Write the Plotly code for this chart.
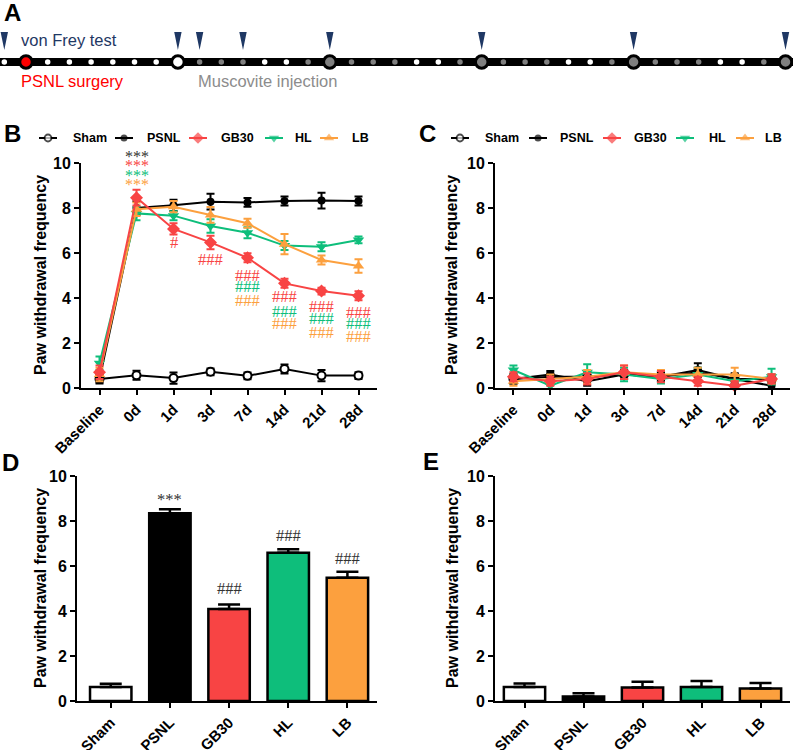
import plotly.graph_objects as go

W, H = 793, 750
RED = "#F84444"
GREEN = "#0EBE7B"
ORANGE = "#FCA03E"
NAVY = "#1F3864"
DGREY = "#7F7F7F"
SANS = "Liberation Sans, Arial, sans-serif"
SERIF = "Liberation Serif, Times New Roman, serif"

# ---------------- data ----------------
timepoints = ["Baseline", "0d", "1d", "3d", "7d", "14d", "21d", "28d"]
groups = ["Sham", "PSNL", "GB30", "HL", "LB"]

# Panel B (PSNL model, time course)
b_sham = [0.40, 0.57, 0.44, 0.72, 0.54, 0.84, 0.55, 0.55]
b_sham_err = [0.15, 0.20, 0.25, 0.15, 0.15, 0.20, 0.25, 0.15]
b_psnl = [0.40, 8.00, 8.12, 8.28, 8.25, 8.31, 8.33, 8.31]
b_psnl_err = [0.20, 0.30, 0.25, 0.35, 0.20, 0.20, 0.35, 0.20]
b_gb30 = [0.70, 8.46, 7.07, 6.47, 5.79, 4.65, 4.31, 4.10]
b_gb30_err = [0.30, 0.35, 0.25, 0.30, 0.20, 0.20, 0.15, 0.20]
b_hl = [1.10, 7.76, 7.66, 7.20, 6.90, 6.33, 6.28, 6.58]
b_hl_err = [0.30, 0.30, 0.20, 0.30, 0.25, 0.20, 0.20, 0.15]
b_lb = [0.60, 7.95, 8.06, 7.69, 7.32, 6.39, 5.69, 5.42]
b_lb_err = [0.30, 0.30, 0.25, 0.35, 0.20, 0.45, 0.20, 0.30]

# Panel C (contralateral, time course)
c_sham = [0.40, 0.50, 0.50, 0.60, 0.50, 0.70, 0.40, 0.40]
c_sham_err = [0.20, 0.15, 0.20, 0.20, 0.20, 0.20, 0.20, 0.20]
c_psnl = [0.40, 0.60, 0.30, 0.60, 0.50, 0.80, 0.40, 0.10]
c_psnl_err = [0.20, 0.15, 0.20, 0.20, 0.20, 0.30, 0.25, 0.15]
c_gb30 = [0.50, 0.30, 0.40, 0.70, 0.50, 0.30, 0.10, 0.40]
c_gb30_err = [0.20, 0.20, 0.25, 0.30, 0.25, 0.20, 0.20, 0.20]
c_hl = [0.80, 0.10, 0.70, 0.60, 0.40, 0.60, 0.30, 0.50]
c_hl_err = [0.20, 0.15, 0.35, 0.30, 0.20, 0.30, 0.25, 0.35]
c_lb = [0.30, 0.40, 0.50, 0.70, 0.60, 0.60, 0.60, 0.40]
c_lb_err = [0.20, 0.20, 0.30, 0.30, 0.20, 0.30, 0.30, 0.20]

# Panel D / E (bars at 28d)
d_means = [0.62, 8.35, 4.09, 6.59, 5.48]
d_err = [0.15, 0.17, 0.20, 0.15, 0.26]
e_means = [0.62, 0.20, 0.60, 0.62, 0.55]
e_err = [0.16, 0.14, 0.25, 0.27, 0.25]

# Panel A schedule: w = no injection, g = muscovite injection, s = PSNL surgery
schedule_days = list(range(37))
day_kind = (["w", "s"] + ["w"] * 7 + ["g"] * 3 + ["w"] * 2 + ["g"] * 5 + ["w"] * 2
            + ["g"] * 5 + ["w"] * 2 + ["g"] * 5 + ["w"] * 2 + ["g"] * 2)
weekly_days = [1, 8, 15, 22, 29, 36]
vonfrey_days = [0, 8, 9, 11, 15, 22, 29, 36]

# significance marks (label positions given in figure pixels from top)
b_stars = [("PSNL", 152.5), ("GB30", 161.5), ("HL", 171.5), ("LB", 180.5)]
b_hash = [  # (timepoint, group, text, y-pixel)
    ("1d", "GB30", "#", 242.7),
    ("3d", "GB30", "###", 259.3),
    ("7d", "GB30", "###", 275.0), ("7d", "HL", "###", 286.7), ("7d", "LB", "###", 300.0),
    ("14d", "GB30", "###", 296.7), ("14d", "HL", "###", 311.7), ("14d", "LB", "###", 324.0),
    ("21d", "GB30", "###", 306.7), ("21d", "HL", "###", 318.3), ("21d", "LB", "###", 332.7),
    ("28d", "GB30", "###", 312.3), ("28d", "HL", "###", 324.0), ("28d", "LB", "###", 336.7),
]
d_marks = [("PSNL", "***", 495), ("GB30", "###", 588), ("HL", "###", 535), ("LB", "###", 558)]

# ---------------- styles ----------------
style = {
    "Sham": dict(color="black", symbol="circle", fill="white", size=8),
    "PSNL": dict(color="black", symbol="circle", fill="black", size=8),
    "GB30": dict(color=RED, symbol="diamond", fill=RED, size=10),
    "HL": dict(color=GREEN, symbol="triangle-down", fill=GREEN, size=10),
    "LB": dict(color=ORANGE, symbol="triangle-up", fill=ORANGE, size=10),
}
bar_colors = ["white", "black", RED, GREEN, ORANGE]

fig = go.Figure()


def px_x(p):
    return p / W


def px_y(p):
    return 1 - p / H


def add_series(name, y, err, xa, ya):
    s = style[name]
    fig.add_trace(go.Scatter(
        x=timepoints, y=y, mode="lines+markers", name=name, showlegend=False,
        xaxis=xa, yaxis=ya, cliponaxis=False,
        line=dict(color=s["color"], width=2),
        marker=dict(symbol=s["symbol"], size=s["size"], color=s["fill"],
                    line=dict(color=s["color"], width=2 if name == "Sham" else 0)),
        error_y=dict(type="data", array=err, color=s["color"], thickness=2, width=4),
    ))


order = ["Sham", "PSNL", "HL", "LB", "GB30"]
bdata = {"Sham": (b_sham, b_sham_err), "PSNL": (b_psnl, b_psnl_err), "GB30": (b_gb30, b_gb30_err),
         "HL": (b_hl, b_hl_err), "LB": (b_lb, b_lb_err)}
cdata = {"Sham": (c_sham, c_sham_err), "PSNL": (c_psnl, c_psnl_err), "GB30": (c_gb30, c_gb30_err),
         "HL": (c_hl, c_hl_err), "LB": (c_lb, c_lb_err)}
for g in order:
    add_series(g, *bdata[g], "x", "y")
for g in order:
    add_series(g, *cdata[g], "x2", "y2")

for means, err, xa, ya in [(d_means, d_err, "x3", "y3"), (e_means, e_err, "x4", "y4")]:
    fig.add_trace(go.Bar(
        x=groups, y=means, xaxis=xa, yaxis=ya, width=0.7, showlegend=False,
        marker=dict(color=bar_colors, line=dict(color="black", width=2.5)),
        error_y=dict(type="data", array=err, arrayminus=[0] * len(err), symmetric=False,
                     color="black", thickness=2.5, width=11),
    ))

# ---------------- panel A timeline ----------------
kind_color = {"w": "white", "g": DGREY, "s": "red"}
small_days = [d for d in schedule_days if d not in weekly_days]
fig.add_trace(go.Scatter(
    x=small_days, y=[62] * len(small_days), mode="markers", xaxis="x5", yaxis="y5",
    showlegend=False, cliponaxis=False,
    marker=dict(size=5.5, color=[kind_color[day_kind[d]] for d in small_days], line=dict(width=0))))
fig.add_trace(go.Scatter(
    x=weekly_days, y=[62] * len(weekly_days), mode="markers", xaxis="x5", yaxis="y5",
    showlegend=False, cliponaxis=False,
    marker=dict(size=12.5, color=[kind_color[day_kind[d]] for d in weekly_days],
                line=dict(width=3, color="black"))))
tx, ty = [], []
for d in vonfrey_days:
    tx += [d - 0.17, d + 0.17, d, d - 0.17, None]
    ty += [32, 32, 50, 32, None]
fig.add_trace(go.Scatter(x=tx, y=ty, mode="lines", fill="toself", fillcolor=NAVY,
                         line=dict(width=0, color=NAVY), xaxis="x5", yaxis="y5",
                         showlegend=False, cliponaxis=False))
fig.add_shape(type="line", xref="paper", x0=0, x1=1, yref="y5", y0=62, y1=62,
              line=dict(color="black", width=8), layer="below")

# ---------------- legends (drawn keys) ----------------
legend_rows = [
    dict(key_x=[48, 124, 198, 274, 329], text_x=[71, 145, 219, 293, 350], y=138),
    dict(key_x=[460, 538, 612, 685, 745], text_x=[483, 558, 632, 707, 763], y=138),
]
for row in legend_rows:
    for g, kx, txx in zip(groups, row["key_x"], row["text_x"]):
        s = style[g]
        fig.add_trace(go.Scatter(
            x=[kx - 9, kx, kx + 9], y=[row["y"]] * 3, mode="lines+markers", xaxis="x6", yaxis="y6",
            showlegend=False, cliponaxis=False,
            line=dict(color=s["color"], width=2),
            marker=dict(symbol=s["symbol"], size=[0, s["size"] - 1, 0], color=s["fill"],
                        line=dict(color=s["color"], width=[0, 1.8 if g == "Sham" else 0, 0]))))
        fig.add_annotation(x=px_x(txx), y=px_y(row["y"]), xref="paper", yref="paper",
                           text=g, showarrow=False, xanchor="left", yanchor="middle",
                           font=dict(family=SANS, size=12.5, color="black", weight="bold"))

# ---------------- annotations ----------------
ann = []
for letter, x, y in [("A", 2, 12), ("B", 2, 133), ("C", 417, 133), ("D", 0, 462), ("E", 421, 461)]:
    ann.append(dict(x=px_x(x), y=px_y(y), xref="paper", yref="paper", text=letter, showarrow=False,
                    xanchor="left", yanchor="middle",
                    font=dict(family=SANS, size=24, color="black", weight="bold")))
for text, x, y, col in [("von Frey test", 19, 40, NAVY), ("PSNL surgery", 19, 81, "red"),
                        ("Muscovite injection", 196, 81, "#8C8C8C")]:
    ann.append(dict(x=px_x(x), y=px_y(y), xref="paper", yref="paper", text=text, showarrow=False,
                    xanchor="left", yanchor="middle", font=dict(family=SANS, size=16.5, color=col)))
for x, y in [(40, 275), (451, 275), (40, 588), (452, 588)]:
    ann.append(dict(x=px_x(x), y=px_y(y), xref="paper", yref="paper", text="Paw withdrawal frequency",
                    showarrow=False, textangle=-90, xanchor="center", yanchor="middle",
                    font=dict(family=SANS, size=16, color="black", weight="bold")))
for g, yp in b_stars:
    col = "#333333" if g == "PSNL" else style[g]["color"]
    ann.append(dict(x="0d", y=px_y(yp), xref="x", yref="paper", text="***", showarrow=False,
                    xanchor="center", yanchor="middle", yshift=-4,
                    font=dict(family=SERIF, size=16, color=col)))
for tp, g, text, yp in b_hash:
    ann.append(dict(x=tp, y=px_y(yp), xref="x", yref="paper", text=text, showarrow=False,
                    xanchor="center", yanchor="middle",
                    font=dict(family=SERIF, size=16.5, color=style[g]["color"])))
for g, text, yp in d_marks:
    ann.append(dict(x=g, y=px_y(yp), xref="x3", yref="paper", text=text, showarrow=False,
                    xanchor="center", yanchor="middle", yshift=(-4 if text == "***" else 0),
                    font=dict(family=SERIF, size=16.5, color="#333333")))
for a in ann:
    fig.add_annotation(**a)

# ---------------- axes ----------------
axis_common = dict(showline=True, linecolor="black", linewidth=2, ticks="outside", ticklen=5,
                   tickwidth=2, tickcolor="black", showgrid=False, zeroline=False, mirror=False,
                   automargin=False)
ytick = dict(family=SANS, size=16, color="black", weight="bold")
xtick = dict(family=SANS, size=15, color="black", weight="bold")
hidden = dict(visible=False, automargin=False, showgrid=False, zeroline=False)

yB = [px_y(388), px_y(163)]
yD = [px_y(701), px_y(476)]
fig.update_layout(
    template="none",
    width=W, height=H, margin=dict(l=0, r=0, t=0, b=0, pad=0), autosize=False,
    paper_bgcolor="white", plot_bgcolor="rgba(0,0,0,0)", showlegend=False,
    xaxis=dict(domain=[px_x(81), px_x(377)], anchor="y", type="category", range=[-0.5, 7.5],
               tickangle=-45, tickfont=xtick, **axis_common),
    yaxis=dict(domain=yB, anchor="x", range=[0, 10], tickvals=[0, 2, 4, 6, 8, 10],
               tickfont=ytick, **axis_common),
    xaxis2=dict(domain=[px_x(495), px_x(790)], anchor="y2", type="category", range=[-0.5, 7.5],
                tickangle=-45, tickfont=xtick, **axis_common),
    yaxis2=dict(domain=yB, anchor="x2", range=[0, 10], tickvals=[0, 2, 4, 6, 8, 10],
                tickfont=ytick, **axis_common),
    xaxis3=dict(domain=[px_x(77), px_x(377)], anchor="y3", type="category", range=[-0.57, 4.5],
                tickangle=-45, tickfont=xtick, **axis_common),
    yaxis3=dict(domain=yD, anchor="x3", range=[0, 10], tickvals=[0, 2, 4, 6, 8, 10],
                tickfont=ytick, **axis_common),
    xaxis4=dict(domain=[px_x(495), px_x(790)], anchor="y4", type="category", range=[-0.5, 4.5],
                tickangle=-45, tickfont=xtick, **axis_common),
    yaxis4=dict(domain=yD, anchor="x4", range=[0, 10], tickvals=[0, 2, 4, 6, 8, 10],
                tickfont=ytick, **axis_common),
    xaxis5=dict(domain=[0, 1], anchor="y5", range=[-4.3 / 21.7, (W - 4.3) / 21.7], **hidden),
    yaxis5=dict(domain=[px_y(100), 1], anchor="x5", range=[100, 0], **hidden),
    xaxis6=dict(domain=[0, 1], anchor="y6", range=[0, W], **hidden),
    yaxis6=dict(domain=[0, 1], anchor="x6", range=[H, 0], **hidden),
)

fig.write_html("out.html", config={"displayModeBar": False},
               post_script="document.body.style.margin='0';document.body.style.overflow='hidden';")
